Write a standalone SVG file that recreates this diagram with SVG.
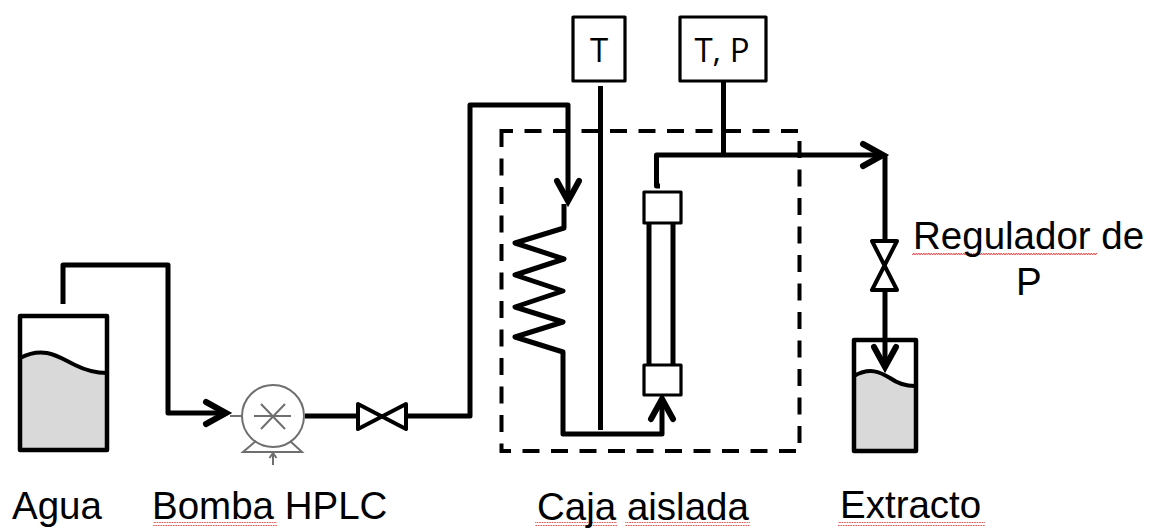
<svg xmlns="http://www.w3.org/2000/svg" width="1150" height="528" viewBox="0 0 1150 528">
<style>
.pipe{fill:none;stroke:#000;stroke-width:5;stroke-linejoin:round}
.box{fill:#fff;stroke:#000;stroke-width:3.2;stroke-linejoin:round}
.tank{fill:none;stroke:#000;stroke-width:4.500;stroke-linejoin:round}
.liquid{fill:#d9d9d9;stroke:none}
.surface{fill:none;stroke:#000;stroke-width:4}
.valve{fill:#fff;stroke:#000;stroke-width:4;stroke-linejoin:round}
.thin{fill:none;stroke:#6f6f6f;stroke-width:2}
.lab{font-family:"Liberation Sans",Arial,sans-serif;font-size:38.5px;fill:#000}
.inst{font-family:"Open Sans","Noto Sans",sans-serif;font-size:33px;fill:#000;text-anchor:middle}
</style>
<defs>
<marker id="arrow" markerUnits="userSpaceOnUse" markerWidth="30" markerHeight="34" refX="24" refY="16" orient="auto" overflow="visible">
<path d="M4,5 L24,16 L4,27" fill="none" stroke="#000" stroke-width="6" stroke-linecap="round" stroke-linejoin="miter"/>
</marker>
<pattern id="squiggle" patternUnits="userSpaceOnUse" width="5" height="4">
<path d="M0,3 L1.25,1 L2.5,3 L3.750,1 L5,3" fill="none" stroke="#e85050" stroke-width="1"/>
</pattern>
</defs>

<g id="connectors">
<path class="pipe" d="M63,304 V265 H168 V413 H226" marker-end="url(#arrow)"/>
<path class="pipe" d="M305,416 H356"/>
<path class="pipe" d="M407,416 H470 V105 H568 V201" marker-end="url(#arrow)"/>
<path class="pipe" d="M564,204 V228 L515,243 L564,259 L515,275 L563,291 L515,307 L563,322 L515,337 L563,352 V434 H662 V399" marker-end="url(#arrow)"/>
<path class="pipe" d="M600.500,86 V430"/>
<path class="pipe" d="M723.500,81 V155"/>
<path class="pipe" d="M660,186 H656.500 V155 H883" marker-end="url(#arrow)"/>
<path class="pipe" d="M885,155 V241"/>
<path class="pipe" d="M885,291 V367" marker-end="url(#arrow)"/>
</g>

<g id="caja-aislada">
<rect x="501.500" y="131" width="298" height="320" fill="none" stroke="#000" stroke-width="4" stroke-dasharray="17 11.500" stroke-dashoffset="5.500"/>
<rect x="535" y="522" width="82" height="4" fill="url(#squiggle)"/>
<rect x="625" y="522" width="125" height="4" fill="url(#squiggle)"/>
<text class="lab" x="537" y="520">Caja aislada</text>
</g>

<g id="agua">
<path class="liquid" d="M20,358 C45,345 60,358 75,365 C85,370 95,373 107,373 V450 H20 Z"/>
<path class="surface" d="M20,358 C45,345 60,358 75,365 C85,370 95,373 107,373"/>
<rect class="tank" x="20" y="316" width="87" height="134"/>
<text class="lab" x="12" y="519">Agua</text>
</g>

<g id="bomba-hplc">
<path class="thin" d="M230,416 H242"/>
<circle cx="273" cy="416" r="31" fill="#fff" stroke="#6f6f6f" stroke-width="2"/>
<path class="thin" d="M254,416 H291 M261,404 L285,429 M285,404 L261,429"/>
<path class="thin" d="M256,441 L243,452 H302 L290,441"/>
<path class="thin" d="M273,465 V454 M269.500,458 L273,453 L276.500,458"/>
<rect x="153" y="522" width="124" height="4" fill="url(#squiggle)"/>
<text class="lab" x="152" y="519">Bomba HPLC</text>
</g>

<g id="valvula">
<path class="valve" d="M358,404 L406,429 V404 L358,429 Z"/>
</g>

<g id="sensor-t">
<rect class="box" x="573" y="17" width="52" height="64"/>
<text class="inst" x="599" y="62">T</text>
</g>

<g id="sensor-tp">
<rect class="box" x="680" y="17" width="86" height="64"/>
<text class="inst" x="722" y="62">T, P</text>
</g>

<g id="columna">
<path class="pipe" d="M649,223 V365 M673,223 V365" stroke-width="4"/>
<rect class="box" x="644" y="192" width="37" height="31"/>
<rect class="box" x="644" y="365" width="37" height="30"/>
</g>

<g id="regulador-p">
<path class="valve" d="M872,241 H897 L872,290 H897 Z"/>
<rect x="912" y="251" width="185" height="4" fill="url(#squiggle)"/>
<text class="lab" x="913" y="249">Regulador de</text>
<text class="lab" x="1016" y="295">P</text>
</g>

<g id="extracto">
<path class="liquid" d="M854,376 C870,367 880,372 890,378 C897,383 905,386 915,386 V451 H854 Z"/>
<path class="surface" d="M854,376 C870,367 880,372 890,378 C897,383 905,386 915,386" stroke-width="3"/>
<rect class="tank" x="854" y="340" width="62" height="111" stroke-width="3.500"/>
<rect x="838" y="522" width="147" height="4" fill="url(#squiggle)"/>
<text class="lab" x="840" y="518">Extracto</text>
</g>
</svg>
